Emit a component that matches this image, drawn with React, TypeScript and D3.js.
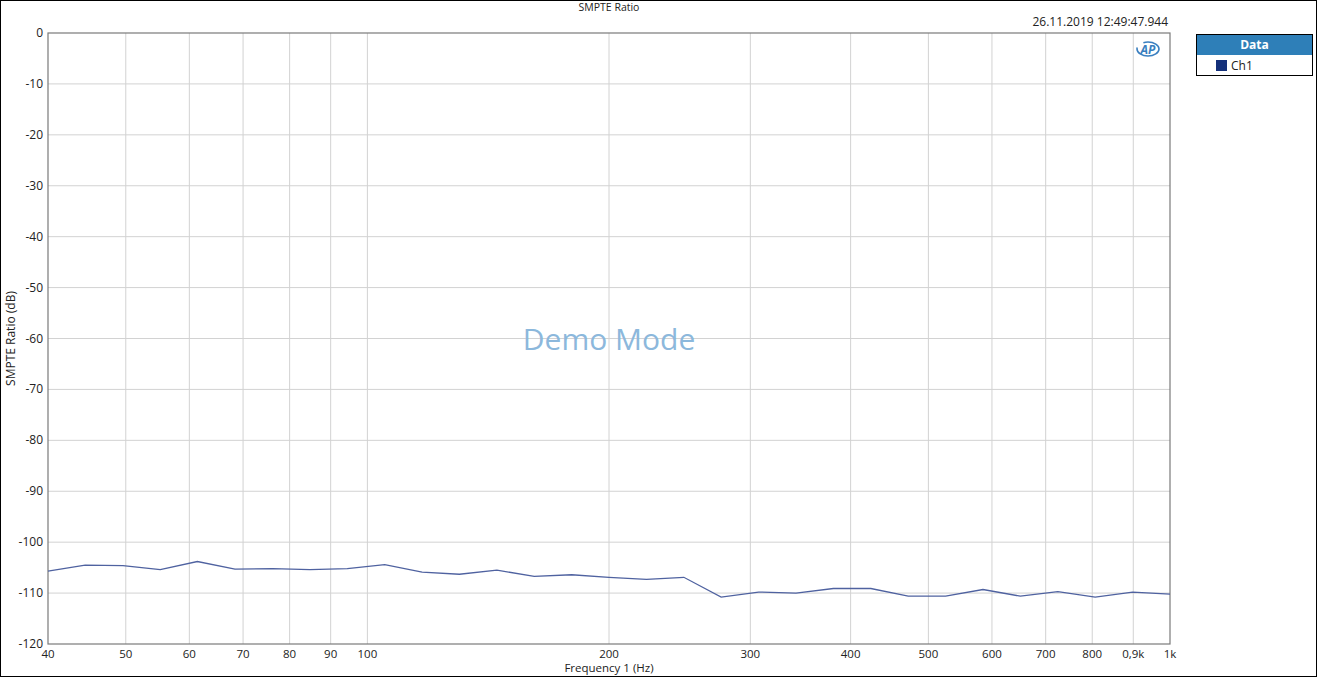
import React from "react";
import * as d3 from "d3";

const frequencies = [40, 44.5, 49.6, 55.2, 61.4, 68.4, 76.2, 84.8, 94.4, 105.1, 117.0, 130.2, 145.0, 161.4, 179.7, 200.0, 222.7, 247.9, 275.9, 307.2, 342.0, 380.7, 423.9, 471.9, 525.3, 584.8, 651.0, 724.8, 806.9, 898.3, 1000];
const ch1 = [-105.7, -104.5, -104.6, -105.4, -103.8, -105.3, -105.2, -105.4, -105.2, -104.4, -105.9, -106.3, -105.5, -106.7, -106.4, -106.9, -107.3, -106.9, -110.8, -109.8, -110.0, -109.1, -109.1, -110.6, -110.6, -109.3, -110.6, -109.7, -110.8, -109.8, -110.2];
const xTickValues = [40, 50, 60, 70, 80, 90, 100, 200, 300, 400, 500, 600, 700, 800, 900, 1000];
const xTickLabels = ["40", "50", "60", "70", "80", "90", "100", "200", "300", "400", "500", "600", "700", "800", "0,9k", "1k"];
const yTickValues = [0, -10, -20, -30, -40, -50, -60, -70, -80, -90, -100, -110, -120];

const W = 1317, H = 677;
const L = 48, R = 1170, T = 33, B = 644;
const FONT = "'Open Sans', 'Noto Sans', sans-serif";

export default function App() {
  const x = d3.scaleLog().domain([40, 1000]).range([L, R]);
  const y = d3.scaleLinear().domain([-120, 0]).range([B, T]);
  const line = d3.line<number>().x((_, i) => x(frequencies[i])).y((d) => y(d));

  return (
    <svg width={W} height={H} style={{ position: "absolute", left: 0, top: 0, background: "#fff" }} fontFamily={FONT}>
      <rect x={0.5} y={0.5} width={W - 1} height={H - 1} fill="#fff" stroke="#000" strokeWidth={1} />
      <text x={609} y={11} textAnchor="middle" fontSize={10.5} fill="#222">SMPTE Ratio</text>
      <text x={1168} y={26} textAnchor="end" fontSize={12} fill="#222">26.11.2019 12:49:47.944</text>
      {/* grid */}
      {xTickValues.slice(1, -1).map((v) => (
        <line key={"gx" + v} x1={x(v)} x2={x(v)} y1={T} y2={B} stroke="#d2d2d2" strokeWidth={1} />
      ))}
      {yTickValues.slice(1, -1).map((v) => (
        <line key={"gy" + v} x1={L} x2={R} y1={y(v)} y2={y(v)} stroke="#d2d2d2" strokeWidth={1} />
      ))}
      <rect x={L} y={T} width={R - L} height={B - T} fill="none" stroke="#7a7a7a" strokeWidth={1.2} />
      {/* watermark */}
      <text x={609} y={350} textAnchor="middle" fontSize={30} fill="#8cb8dc">Demo Mode</text>
      {/* AP logo */}
      <g transform="translate(1148,49)">
        <ellipse cx={0} cy={0} rx={11} ry={7} fill="none" stroke="#3a7fc0" strokeWidth={1.6} strokeDasharray="30 8" />
        <text x={0} y={4.5} textAnchor="middle" fontSize={12} fontWeight="bold" fontStyle="italic" fill="#3a7fc0">AP</text>
      </g>
      {/* y ticks */}
      {yTickValues.map((v) => (
        <text key={"yt" + v} x={43} y={y(v) + 4} textAnchor="end" fontSize={12} fill="#222">{v}</text>
      ))}
      {xTickValues.map((v, i) => (
        <text key={"xt" + v} x={x(v)} y={658} textAnchor="middle" fontSize={11.5} fill="#222">{xTickLabels[i]}</text>
      ))}
      <text x={609} y={671.5} textAnchor="middle" fontSize={11.5} fill="#222">Frequency 1 (Hz)</text>
      <text transform={`translate(15,${(T + B) / 2}) rotate(-90)`} textAnchor="middle" fontSize={12} fill="#222">SMPTE Ratio (dB)</text>
      {/* data */}
      <path d={line(ch1) || ""} fill="none" stroke="#4f62a0" strokeWidth={1.3} />
      {/* legend */}
      <rect x={1196.5} y={34.5} width={116} height={41} fill="#fff" stroke="#000" strokeWidth={1} />
      <rect x={1197} y={35} width={115} height={20} fill="#2e7fb8" />
      <text x={1254.5} y={49} textAnchor="middle" fontSize={12} fontWeight="bold" fill="#fff">Data</text>
      <rect x={1216} y={60} width={11} height={11} fill="#14307a" />
      <text x={1231} y={70} fontSize={12} fill="#222">Ch1</text>
    </svg>
  );
}
